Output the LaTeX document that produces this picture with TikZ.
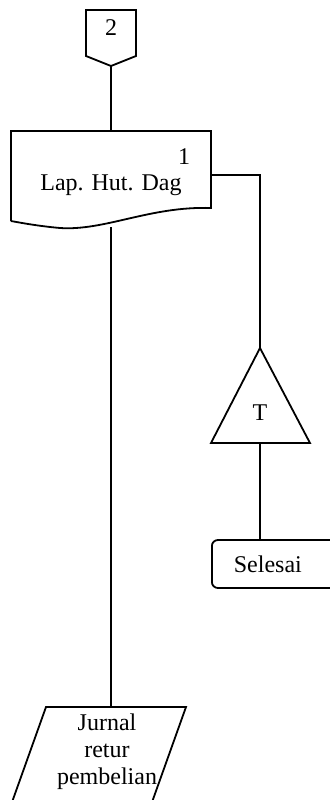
\documentclass[tikz,border=0pt]{standalone}
\usepackage{fontspec}
\setmainfont{Liberation Serif}
\begin{document}
\begin{tikzpicture}[x=0.5pt,y=-0.5pt,line width=0.9pt,
    font=\fontsize{12}{13.5}\selectfont,
    teks/.style={inner sep=0pt},
    terminal/.style={draw,rounded corners=3pt,minimum height=24pt,
      text width=43pt,inner xsep=11pt,align=left}]
  \useasboundingbox (0,0) rectangle (329,800);
  % penghubung ke halaman 2
  \draw (86,10) -- (136,10) -- (136,56) -- (111,66) coordinate (hal2) -- (86,56) -- cycle;
  \node[teks] (no2) at (111,28) {2};
  % dokumen laporan
  \draw (11,221) -- (11,131) coordinate (lapnw) -- (211,131) -- (211,208)
    .. controls (150,206) and (105,231) .. (60,228)
    .. controls (38,226) and (22,223) .. (11,221);
  \coordinate (lap top) at (111,131);
  \coordinate (lap right) at (211,175);
  \coordinate (lap bottom) at (111,227);
  \node[teks] (lapno) at (184,157) {1};
  \node[teks] (lap) at (111,185) {Lap. Hut. Dag};
  % arsip
  \draw (260,348) coordinate (arsip top) -- (310,443) -- (211,443) -- cycle;
  \coordinate (arsip bottom) at (260,443);
  \node[teks] (arsip) at (260,413) {T};
  % selesai
  \node[terminal,anchor=west] (selesai) at (211,564) {Selesai};
  % jurnal
  \draw (46,707) coordinate (jurnalnw) -- (186,707) -- (151,805) -- (11,805) -- cycle;
  \coordinate (jurnal top) at (111,707);
  \node[teks,align=center] (jurnal) at (107,752) {Jurnal\\retur\\pembelian};
  % alur
  \draw (hal2) -- (lap top);
  \draw (lap right) -| (arsip top);
  \draw (arsip bottom) -- (arsip bottom |- selesai.north);
  \draw (lap bottom) -- (jurnal top);
\end{tikzpicture}
\end{document}
